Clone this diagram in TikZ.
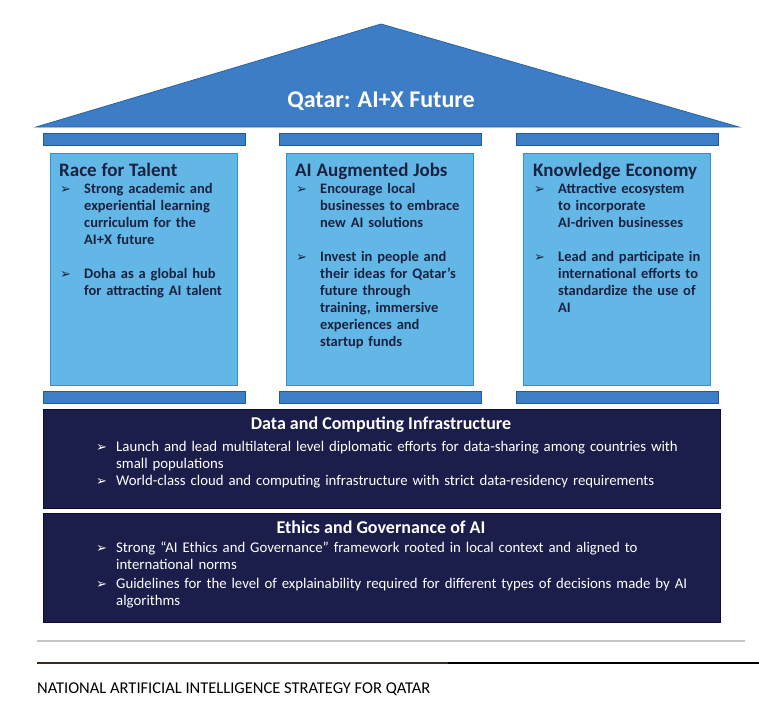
\documentclass[tikz,border=0pt]{standalone}
\usepackage{fontspec}
\setmainfont{Carlito}
\newfontfamily\symfont{DejaVu Sans}
\usetikzlibrary{positioning}

\definecolor{roofblue}{HTML}{3C7DC5}
\definecolor{roofedge}{HTML}{2A63A6}
\definecolor{barblue}{HTML}{3D7FC6}
\definecolor{baredge}{HTML}{1F5C9E}
\definecolor{pillarfill}{HTML}{63B7E7}
\definecolor{pillaredge}{HTML}{3193CB}
\definecolor{navyfill}{HTML}{1B1E4A}
\definecolor{navyedge}{HTML}{0C0E2C}
\definecolor{inktext}{HTML}{1A2240}
\definecolor{rulegray}{HTML}{C6C6C6}
\definecolor{rulebrown}{HTML}{3A2924}

\newcommand{\arrowglyph}{{\symfont\bfseries\fontsize{13}{13}\selectfont ➢}}
\newcommand{\coltitle}[1]{{\fontsize{19}{20}\selectfont #1\par}}
\newcommand{\colitem}[1]{\par\hangindent=25pt\hangafter=1\noindent
  \makebox[25pt][l]{\hspace{1pt}\arrowglyph}#1\par}
\newcommand{\baseitem}[1]{\par\hangindent=19pt\hangafter=1\noindent
  \makebox[19pt][l]{\hspace{-1pt}\arrowglyph}#1\par\vspace{1pt}}

\tikzset{
  capbar/.style={fill=barblue, draw=baredge, line width=0.8pt},
  pillar/.style={fill=pillarfill, draw=pillaredge, line width=0.8pt, inner sep=0pt, anchor=north west},
  coltext/.style={text width=186pt, align=left, inner sep=0pt, anchor=north west,
    text=inktext, font=\fontsize{14.5}{17}\selectfont\bfseries},
  basebox/.style={fill=navyfill, draw=navyedge, line width=1pt, inner sep=0pt, anchor=north west,
    minimum width=677pt},
  basetitle/.style={text=white, font=\fontsize{18}{20}\selectfont\bfseries, inner sep=0pt},
  basetext/.style={text width=620pt, align=left, inner sep=0pt, anchor=north west,
    text=white, font=\fontsize{14.8}{16.5}\selectfont},
}

\begin{document}
\begin{tikzpicture}[x=1pt, y=-1pt]
  \useasboundingbox (0,0) rectangle (759,717);

  % roof
  \filldraw[fill=roofblue, draw=roofedge, line width=0.8pt] (36,127) -- (381,24) -- (739,127) -- cycle;
  \node[text=white, font=\fontsize{24}{26}\selectfont\bfseries, inner sep=0pt] (roof) at (381,101) {Qatar: AI+X Future};

  % three pillars with their capitals and bases
  \foreach \x/\n in {43/talent, 279/jobs, 516/economy} {
    \draw[capbar] (\x,133) rectangle ++(202,12);
    \node[pillar, minimum width=187pt, minimum height=232pt] (\n box) at (\x+7,153) {};
    \draw[capbar] (\x,391) rectangle ++(202,12);
  }

  \node[coltext] (talent) at (59,163) {\coltitle{Race for Talent}%
    \colitem{Strong academic and\newline experiential learning\newline curriculum for the\newline AI+X future}%
    \vspace{17pt}%
    \colitem{Doha as a global hub\newline for attracting AI talent}};
  \node[coltext] (jobs) at (295,163) {\coltitle{AI Augmented Jobs}%
    \colitem{Encourage local\newline businesses to embrace\newline new AI solutions}%
    \vspace{17pt}%
    \colitem{Invest in people and\newline their ideas for Qatar’s\newline future through\newline training, immersive\newline experiences and\newline startup funds}};
  \node[coltext] (economy) at (533,163) {\coltitle{Knowledge Economy}%
    \colitem{Attractive ecosystem\newline to incorporate\newline AI-driven businesses}%
    \vspace{17pt}%
    \colitem{Lead and participate in\newline international efforts to\newline standardize the use of\newline AI}};

  % data layer
  \node[basebox, minimum height=99pt] (databox) at (43,409) {};
  \node[basetitle] (data) at (381,425) {Data and Computing Infrastructure};
  \node[basetext] (datatext) at (97,435) {%
    \baseitem{Launch and lead multilateral level diplomatic efforts for data-sharing among countries with\newline small populations}%
    \baseitem{World-class cloud and computing infrastructure with strict data-residency requirements}};

  % ethics layer
  \node[basebox, minimum height=109pt] (ethicsbox) at (43,513) {};
  \node[basetitle] (ethics) at (381,527) {Ethics and Governance of AI};
  \node[basetext] (ethicstext) at (97,536) {%
    \baseitem{Strong “AI Ethics and Governance” framework rooted in local context and aligned to\newline international norms}%
    \vspace{2pt}%
    \baseitem{Guidelines for the level of explainability required for different types of decisions made by AI\newline algorithms}};

  % footer
  \draw[rulegray, line width=2.5pt] (37,641) -- (745,641);
  \draw[rulebrown, line width=2.5pt] (37,663) -- (448,663);
  \draw[black, line width=1.3pt] (448,663) -- (759,663);
  \node[anchor=base west, inner sep=0pt, font=\fontsize{16.5}{18}\selectfont] (footer) at (37,693)
    {NATIONAL ARTIFICIAL INTELLIGENCE STRATEGY FOR QATAR};
\end{tikzpicture}
\end{document}
